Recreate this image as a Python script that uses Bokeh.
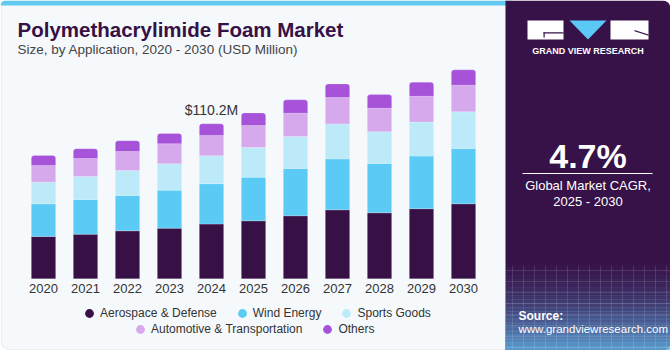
from bokeh.plotting import figure
from bokeh.models import (Range1d, BoxAnnotation, Label, Legend, LegendItem,
                          PolyAnnotation, ColumnDataSource)
from bokeh.core.properties import value
from bokeh.embed import file_html
from bokeh.resources import INLINE

# ---------------- data ----------------
years = [2020, 2021, 2022, 2023, 2024, 2025, 2026, 2027, 2028, 2029, 2030]
year_labels = [str(y) for y in years]
aerospace = [30.1, 31.7, 34.1, 36.0, 38.9, 41.2, 44.8, 49.0, 46.9, 49.8, 53.3]
wind = [23.2, 24.7, 25.1, 27.0, 28.7, 31.0, 33.6, 36.2, 35.0, 37.4, 39.3]
sports = [15.4, 16.3, 17.8, 18.8, 19.9, 21.1, 22.7, 24.9, 22.7, 24.2, 26.1]
automotive = [11.9, 12.8, 13.5, 14.2, 14.4, 15.6, 16.6, 18.7, 16.6, 18.3, 18.9]
others = [7.1, 6.9, 7.6, 7.3, 8.3, 9.0, 9.5, 9.7, 9.7, 10.0, 10.9]
series_names = ["Aerospace & Defense", "Wind Energy", "Sports Goods",
                "Automotive & Transportation", "Others"]
highlight_year = 2024
highlight_text = "$110.2M"
cagr_text = "4.7%"

colors = ["#371146", "#5BCAF5", "#BDEAF9", "#D5A9EC", "#A652D9"]
FONT = "Liberation Sans"
PURPLE = "#371248"

src = ColumnDataSource(dict(year=years, a=aerospace, w=wind, s=sports,
                            au=automotive, o=others))

W, H = 670, 350
p = figure(width=W, height=H, output_backend="svg", toolbar_location=None,
           x_axis_location=None, y_axis_location=None,
           x_range=Range1d(2020 - 43 / 42, 2020 + (W - 43) / 42),
           y_range=Range1d(-(H - 278.3) / 1.407, 278.3 / 1.407),
           min_border=0, min_border_left=0, min_border_right=0,
           min_border_top=0, min_border_bottom=0)
p.outline_line_color = None
p.background_fill_color = "white"
p.border_fill_color = "white"
p.grid.visible = False


def sbox(l, r, b, t, color, alpha=1.0, level="annotation", **kw):
    """box in screen pixels, y measured from the top of the canvas"""
    p.add_layout(BoxAnnotation(left=l, right=r, bottom=H - b, top=H - t,
                               left_units="screen", right_units="screen",
                               bottom_units="screen", top_units="screen",
                               fill_color=color, fill_alpha=alpha,
                               line_color=kw.pop("line_color", None),
                               level=level, **kw))


# ---------------- backgrounds ----------------
sbox(0.5, 520, 349, 0.5, "#F5F9FC", level="underlay", line_color="#CFCFCF",
     line_width=1.2, border_radius=8)
sbox(0, 512, 5, 0, "#62C9F0", level="underlay", border_radius=(6, 0, 0, 0))
sbox(505, 670, 350, 0, PURPLE, level="underlay", border_radius=(0, 8, 8, 0))
# gradient at bottom of the side panel
n_strips = 24
g_h = 95.0
for k in range(n_strips):
    t = H - g_h + g_h * k / n_strips
    b = H - g_h + g_h * (k + 1) / n_strips
    frac = (k + 0.5) / n_strips
    sbox(505, 670, b + 0.5, t, "#62B4E8", alpha=0.85 * frac ** 1.7, level="underlay")
sbox(505, 670, 350, 265, "white", alpha=0, level="underlay", hatch_pattern="+",
     hatch_color="white", hatch_alpha=0.12, hatch_scale=11)

# ---------------- logo ----------------
sbox(527, 563, 39, 20, "white")
sbox(543, 563, 33, 31.8, PURPLE)
sbox(543, 544.2, 37, 31.8, PURPLE)
sbox(610, 648, 39, 20, "white")
p.add_layout(PolyAnnotation(xs=[569, 606, 587.5], ys=[H - 20, H - 20, H - 39],
                            xs_units="screen", ys_units="screen",
                            fill_color="#5BC8F5", fill_alpha=1, line_color=None))
p.add_layout(PolyAnnotation(xs=[634, 648, 648, 634],
                            ys=[H - 29.5, H - 34, H - 35.2, H - 30.7],
                            xs_units="screen", ys_units="screen",
                            fill_color=PURPLE, fill_alpha=1, line_color=None))


def lab(x, y, text, size, color="white", bold=False, align="left", font=FONT):
    """label centred vertically on y (pixels from the top)"""
    p.add_layout(Label(x=x, y=H - y, x_units="screen", y_units="screen", text=text,
                       text_font=font, text_font_size=size, text_color=color,
                       text_font_style="bold" if bold else "normal",
                       text_align=align, text_baseline="middle"))


lab(587.5, 50.3, "GRAND VIEW RESEARCH", "9px", bold=True, align="center")
lab(587.5, 155, cagr_text, "34px", bold=True, align="center")
sbox(522, 652, 173.5, 172.5, "white")
lab(587.5, 184.5, "Global Market CAGR,", "13px", align="center")
lab(587.5, 200.5, "2025 - 2030", "13px", align="center")
lab(518, 315.8, "Source:", "12px", bold=True)
lab(518, 328.8, "www.grandviewresearch.com", "11.5px")

# ---------------- titles ----------------
lab(17, 29, "Polymethacrylimide Foam Market", "20.5px", color="#371146", bold=True)
lab(17, 49.3, "Size, by Application, 2020 - 2030 (USD Million)", "13.5px", color="#444444")

# ---------------- bars ----------------
rs = p.vbar_stack(["a", "w", "s", "au", "o"], x="year", width=0.58, source=src,
                  color=colors, line_color="white", line_width=0.4, line_alpha=0.5)
try:
    rs[-1].glyph.border_radius = (3, 3, 0, 0)
except Exception:
    pass

totals = [a + b + c + d + e for a, b, c, d, e in
          zip(aerospace, wind, sports, automotive, others)]
hi = years.index(highlight_year)
p.text(x=[highlight_year], y=[totals[hi]], text=[highlight_text], text_font=value(FONT),
       text_font_size="14px", text_color="#333333", text_align="center",
       text_baseline="bottom", y_offset=-6)

p.text(x=years, y=0, text=year_labels, text_font=value(FONT), text_font_size="13px",
       text_color="#333333", text_align="center", text_baseline="middle", y_offset=10)

# ---------------- legend ----------------
nan = float("nan")
dummies = [p.scatter(x=[nan], y=[nan], marker="circle", size=9, color=c, line_color=None)
           for c in colors]
items = [LegendItem(label=n, renderers=[r]) for n, r in zip(series_names, dummies)]


def mk_legend(its, x, y):
    lg = Legend(items=its, orientation="horizontal", location=(x, y),
                glyph_width=22, glyph_height=22, label_standoff=0, spacing=14,
                padding=0, margin=0, border_line_color=None,
                background_fill_alpha=0, label_text_font=FONT,
                label_text_font_size="12px", label_text_color="#333333",
                label_height=16)
    p.add_layout(lg)


mk_legend(items[:3], 78, H - 312.7 - 11)
mk_legend(items[3:], 129, H - 329 - 11)

open("out.html", "w").write(file_html(p, INLINE))
